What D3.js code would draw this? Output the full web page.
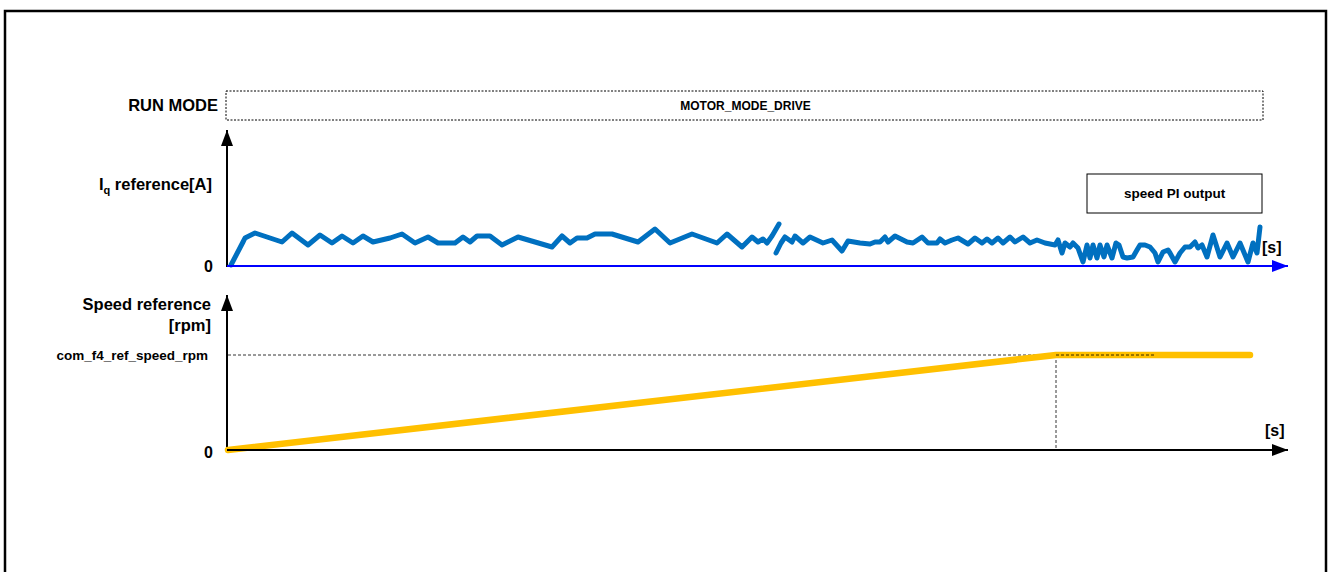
<!DOCTYPE html>
<html>
<head>
<meta charset="utf-8">
<script src="https://cdn.jsdelivr.net/npm/d3@7"></script>
<style>
  body { margin: 0; background: #fff; }
  text { font-family: "Liberation Sans", Arial, sans-serif; font-weight: bold; fill: #000; }
</style>
</head>
<body>
<svg id="chart" width="1328" height="572"></svg>
<script>
// time in 0.1 s units, Iq in A, speed normalized to com_f4_ref_speed_rpm
const runMode = "MOTOR_MODE_DRIVE";
const iqSeg1T = [0.3,1.5,1.7,2.7,5.4,6.4,8.0,9.2,10.4,11.4,12.5,13.5,14.5,16.2,17.4,18.7,20.0,21.0,22.7,23.5,24.2,24.9,26.2,27.4,29.0,32.4,33.4,34.2,34.9,35.9,36.7,38.4,41.0,42.7,44.2,46.4,48.9,49.9,51.4,52.4,53.0,53.5,53.9,54.4,55.1];
const iqSeg1A = [0.1,2.4,2.8,3.3,2.4,3.3,2.1,3.1,2.3,3.0,2.3,3.0,2.4,2.8,3.2,2.3,2.9,2.3,2.3,2.9,2.4,3.0,3.0,2.1,2.9,1.9,3.0,2.3,2.8,2.8,3.2,3.2,2.4,3.7,2.3,3.2,2.3,3.2,1.9,2.9,2.4,2.7,2.3,3.0,4.2];
const iqSeg2T = [54.8,55.3,55.7,56.4,56.7,57.5,58.2,59.5,60.4,61.4,62.0,63.2,64.2,64.7,65.2,65.7,66.0,66.7,67.9,68.5,69.4,70.0,70.9,71.2,71.7,72.4,73.0,74.0,74.7,75.4,75.9,76.4,77.0,77.5,78.2,78.7,79.5,80.2,80.9,81.7,82.7,83.0,83.4,83.7,84.2,84.5,85.0,85.5,85.9,86.2,86.5,86.9,87.2,87.6,87.9,88.4,88.8,89.1,89.5,89.9,90.5,90.9,91.2,91.7,92.2,92.7,93.0,93.5,94.0,94.2,94.7,95.2,95.7,96.2,96.7,97.0,97.4,97.9,98.5,99.2,99.9,100.5,101.2,102.0,102.5,102.9,103.2];
const iqSeg2A = [1.3,2.3,2.9,2.4,3.0,2.3,2.9,2.3,2.6,1.5,2.5,2.3,2.2,2.4,2.4,2.9,2.4,3.0,2.4,2.3,2.9,2.3,2.3,2.7,2.3,2.6,2.8,2.2,2.8,2.3,2.7,2.3,2.8,2.3,2.9,2.4,2.9,2.3,2.6,2.3,2.1,2.6,1.3,2.3,1.9,2.3,1.8,0.4,2.1,0.8,2.1,0.8,2.1,0.9,2.1,0.8,2.3,2.1,0.9,0.8,0.9,1.6,2.1,2.1,1.9,1.3,0.4,1.4,1.6,1.3,0.4,1.3,1.9,1.9,2.4,1.8,2.1,0.9,3.1,0.9,2.3,0.9,2.3,0.4,2.3,1.3,3.9];
const speedT = [0, 82.8, 102.2];
const speedRef = [0, 1, 1];
const refDashEndT = 92.7;

const svg = d3.select("#chart");

const x = d3.scaleLinear().domain([0, 103.5]).range([228, 1263]);
const xEnd = 106;
const yIq = d3.scaleLinear().domain([0, 10]).range([266, 166]);
const ySpd = d3.scaleLinear().domain([0, 1]).range([450, 355]);

// outer frame
svg.append("rect")
  .attr("x", 5).attr("y", 11)
  .attr("width", 1321).attr("height", 600)
  .attr("fill", "none").attr("stroke", "#000").attr("stroke-width", 2.5);

// arrow markers
const defs = svg.append("defs");
function arrow(id, color) {
  defs.append("marker")
    .attr("id", id)
    .attr("viewBox", "0 0 16 12")
    .attr("refX", 16).attr("refY", 6)
    .attr("markerWidth", 16).attr("markerHeight", 12)
    .attr("markerUnits", "userSpaceOnUse")
    .attr("orient", "auto")
    .append("path").attr("d", "M0,0 L16,6 L0,12 Z").attr("fill", color);
}
arrow("arrBlack", "#000");
arrow("arrBlue", "#0000ff");

// run mode row
svg.append("text")
  .attr("x", 218).attr("y", 111)
  .attr("text-anchor", "end").style("font-size", "16.5px")
  .text("RUN MODE");
svg.append("rect")
  .attr("x", x(0) - 2).attr("y", 91)
  .attr("width", x(103.5) - x(0) + 2).attr("height", 29)
  .attr("fill", "none").attr("stroke", "#000").attr("stroke-width", 1)
  .attr("stroke-dasharray", "2,1.5");
svg.append("text")
  .attr("x", (x(0) + x(103.5)) / 2).attr("y", 110)
  .attr("text-anchor", "middle").style("font-size", "12px")
  .text(runMode);

// Iq plot
const gIq = svg.append("g");
gIq.append("line")
  .attr("x1", x(0) - 1).attr("x2", x(0) - 1)
  .attr("y1", yIq(0) + 1).attr("y2", 130)
  .attr("stroke", "#000").attr("stroke-width", 2)
  .attr("marker-end", "url(#arrBlack)");

const iqLine = d3.line().x(d => x(d[0])).y(d => yIq(d[1])).curve(d3.curveLinear);
[[iqSeg1T, iqSeg1A], [iqSeg2T, iqSeg2A]].forEach(([ts, as]) => {
  gIq.append("path")
    .datum(ts.map((t, i) => [t, as[i]]))
    .attr("d", iqLine)
    .attr("fill", "none").attr("stroke", "#0070c0")
    .attr("stroke-width", 5)
    .attr("stroke-linejoin", "round").attr("stroke-linecap", "round");
});

gIq.append("line")
  .attr("x1", x(0) - 1).attr("x2", x(xEnd))
  .attr("y1", yIq(0)).attr("y2", yIq(0))
  .attr("stroke", "#0000ff").attr("stroke-width", 2)
  .attr("marker-end", "url(#arrBlue)");

const iqLabel = gIq.append("text")
  .attr("x", 212).attr("y", 190)
  .attr("text-anchor", "end").style("font-size", "16.5px");
iqLabel.append("tspan").text("I");
iqLabel.append("tspan").attr("dy", 4).style("font-size", "11px").text("q");
iqLabel.append("tspan").attr("dy", -4).text(" reference[A]");

gIq.append("text")
  .attr("x", 213).attr("y", yIq(0) + 6)
  .attr("text-anchor", "end").style("font-size", "16px").text("0");
gIq.append("text")
  .attr("x", 1262).attr("y", 253)
  .style("font-size", "16px").text("[s]");

// speed PI output legend box
gIq.append("rect")
  .attr("x", 1087).attr("y", 174)
  .attr("width", 175).attr("height", 39)
  .attr("fill", "#fff").attr("stroke", "#000").attr("stroke-width", 1);
gIq.append("text")
  .attr("x", 1174.5).attr("y", 198)
  .attr("text-anchor", "middle").style("font-size", "13.5px")
  .text("speed PI output");

// speed plot
const gSp = svg.append("g");
gSp.append("line")
  .attr("x1", x(0) - 1).attr("x2", x(0) - 1)
  .attr("y1", ySpd(0) + 1).attr("y2", 295)
  .attr("stroke", "#000").attr("stroke-width", 2)
  .attr("marker-end", "url(#arrBlack)");

// reference guide lines
gSp.append("line")
  .attr("x1", x(0)).attr("x2", x(refDashEndT))
  .attr("y1", ySpd(1)).attr("y2", ySpd(1))
  .attr("stroke", "#000").attr("stroke-width", 0.8)
  .attr("stroke-dasharray", "3,2");
gSp.append("line")
  .attr("x1", x(speedT[1])).attr("x2", x(speedT[1]))
  .attr("y1", ySpd(1)).attr("y2", ySpd(0))
  .attr("stroke", "#000").attr("stroke-width", 0.8)
  .attr("stroke-dasharray", "3,2");

gSp.append("path")
  .datum(speedT.map((t, i) => [t, speedRef[i]]))
  .attr("d", d3.line().x(d => x(d[0])).y(d => ySpd(d[1])))
  .attr("fill", "none").attr("stroke", "#ffc000")
  .attr("stroke-width", 6.5)
  .attr("stroke-linecap", "round").attr("stroke-linejoin", "round");

// redraw the dashed reference over the orange line where it overlaps
gSp.append("line")
  .attr("x1", x(speedT[1])).attr("x2", x(refDashEndT))
  .attr("y1", ySpd(1)).attr("y2", ySpd(1))
  .attr("stroke", "#000").attr("stroke-width", 0.8)
  .attr("stroke-dasharray", "3,2");

gSp.append("line")
  .attr("x1", x(0) - 1).attr("x2", x(xEnd))
  .attr("y1", ySpd(0)).attr("y2", ySpd(0))
  .attr("stroke", "#000").attr("stroke-width", 2)
  .attr("marker-end", "url(#arrBlack)");

gSp.append("text")
  .attr("x", 211).attr("y", 310)
  .attr("text-anchor", "end").style("font-size", "16.5px").text("Speed reference");
gSp.append("text")
  .attr("x", 211).attr("y", 331)
  .attr("text-anchor", "end").style("font-size", "16.5px").text("[rpm]");
gSp.append("text")
  .attr("x", 208).attr("y", ySpd(1) + 5)
  .attr("text-anchor", "end").style("font-size", "13.5px").text("com_f4_ref_speed_rpm");
gSp.append("text")
  .attr("x", 213).attr("y", ySpd(0) + 8)
  .attr("text-anchor", "end").style("font-size", "16px").text("0");
gSp.append("text")
  .attr("x", 1265).attr("y", 436)
  .style("font-size", "16px").text("[s]");
</script>
</body>
</html>
